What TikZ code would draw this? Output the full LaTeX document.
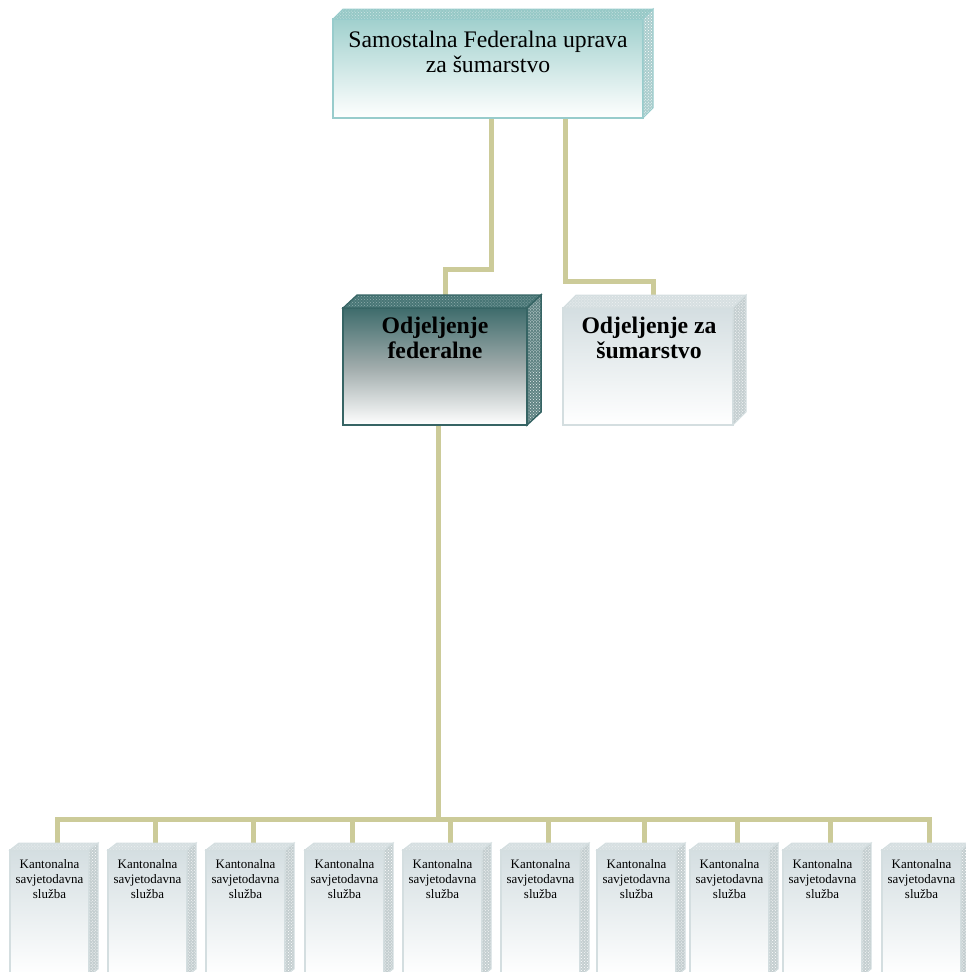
\documentclass[tikz,border=0pt]{standalone}
\usepackage{fontspec}
\setmainfont{Liberation Serif}
\usetikzlibrary{calc,patterns}

\definecolor{linkol}{RGB}{204,203,153}
\definecolor{tealTop}{RGB}{160,208,205}
\definecolor{tealEdge}{RGB}{152,204,204}
\definecolor{tealLid}{RGB}{150,200,198}
\definecolor{tealSide}{RGB}{170,205,205}
\definecolor{darkTop}{RGB}{62,108,108}
\definecolor{darkEdge}{RGB}{54,100,100}
\definecolor{darkLid}{RGB}{72,118,118}
\definecolor{darkSide}{RGB}{96,132,132}
\definecolor{greyTop}{RGB}{212,222,225}
\definecolor{greyEdge}{RGB}{212,222,224}
\definecolor{greyLid}{RGB}{214,223,225}
\definecolor{greySide}{RGB}{196,206,208}

\pgfdeclarelayer{bg}
\pgfsetlayers{bg,main}

% top and right faces of a bevelled box built on a front-face node
\newcommand\slabfaces[5]{%
  \path[#4] (#1.north west) -- ++(#2,-#3) -- ($(#1.north east)+(#2,-#3)$) -- (#1.north east) -- cycle;
  \path[#5] (#1.north east) -- ++(#2,-#3) -- ($(#1.south east)+(#2,-#3)$) -- (#1.south east) -- cycle;
}

\tikzset{
  link/.style={draw=linkol, line width=5bp, line join=miter},
  front/.style={rectangle, inner sep=0pt, outer sep=0pt},
  headbox/.style={front, minimum width=310bp, minimum height=99bp,
    draw=tealEdge, line width=1.6bp, top color=tealTop,
    middle color=tealTop!35!white, bottom color=white},
  headlid/.style={preaction={fill=tealLid}, pattern=crosshatch dots,
    pattern color=white!55!tealLid, draw=tealEdge, line width=1bp},
  headside/.style={preaction={fill=tealSide}, pattern=crosshatch dots,
    pattern color=white, draw=tealEdge, line width=1bp},
  darkbox/.style={front, minimum width=184bp, minimum height=117bp,
    draw=darkEdge, line width=2bp, top color=darkTop, bottom color=white,
    middle color=black!25!white!75!darkTop},
  darklid/.style={preaction={fill=darkLid}, pattern=crosshatch dots,
    pattern color=darkLid!60!white, draw=darkEdge, line width=1.2bp},
  darkside/.style={preaction={fill=darkSide}, pattern=crosshatch dots,
    pattern color=white!85!darkSide, draw=darkEdge, line width=1.5bp},
  greybox/.style={front, draw=greyEdge, line width=1.5bp,
    top color=greyTop, middle color=greyTop!45!white, bottom color=white},
  greylid/.style={preaction={fill=greyLid}, pattern=crosshatch dots,
    pattern color=white!60!greyLid, draw=greyEdge, line width=1bp},
  greyside/.style={preaction={fill=greySide}, pattern=crosshatch dots,
    pattern color=white, draw=greyEdge, line width=1bp},
  headtext/.style={align=center, inner sep=0pt,
    font=\fontsize{23.8}{25.5}\selectfont},
  midtext/.style={align=center, inner sep=0pt,
    font=\bfseries\fontsize{23.8}{25}\selectfont},
  smalltext/.style={align=center, inner sep=0pt,
    font=\fontsize{13}{15}\selectfont},
}

\begin{document}
\begin{tikzpicture}[x=1bp,y=-1bp]
\useasboundingbox (0,0) rectangle (966,972);
\clip (0,0) rectangle (966,972);

% head office (labels are placed by the baseline of their last line)
\node[headbox] (head) at (488,68.5) {};
\slabfaces{head}{10}{10}{headlid}{headside}
\node[headtext, anchor=base] (headlbl) at (488,72.5) {Samostalna Federalna uprava\\za šumarstvo};

% the two departments
\node[darkbox] (fed) at (435,366.5) {};
\slabfaces{fed}{14}{13}{darklid}{darkside}
\node[midtext, anchor=base] (fedlbl) at (435,358) {Odjeljenje\\federalne};

\node[greybox, minimum width=170bp, minimum height=117bp] (odj) at (648,366.5) {};
\slabfaces{odj}{13}{13}{greylid}{greyside}
\node[midtext, anchor=base] (odjlbl) at (649,358) {Odjeljenje za\\šumarstvo};

% cantonal advisory services
\foreach \L [count=\i] in {10,108,206,305,403,501,597,690,783,882}{
  \node[greybox, minimum width=79bp, minimum height=126bp] (k\i) at (\L+39.5,913) {};
  \slabfaces{k\i}{9}{7}{greylid}{greyside}
  \node[smalltext, anchor=base] (k\i lbl) at (\L+39.5,898) {Kantonalna\\savjetodavna\\služba};
}

% connectors
\begin{pgfonlayer}{bg}
  \draw[link] ($(head.south)+(3,0)$) -- ++(0,151) -| ($(fed.north)+(10,0)$);
  \draw[link] ($(head.south)+(77,0)$) -- ++(0,163) -| ($(odj.north)+(5,0)$);
  \draw[link] ($(fed.south)+(3,0)$) -- ++(0,394);
  \draw[link] ($(k1.north)+(7.5,0)$) |- ($(k10.north)+(7.5,-31)$) -- ($(k10.north)+(7.5,0)$);
  \foreach \i in {2,...,9}
    \draw[link] ($(k\i.north)+(7.5,0)$) -- ++(0,-31);
\end{pgfonlayer}
\end{tikzpicture}
\end{document}
